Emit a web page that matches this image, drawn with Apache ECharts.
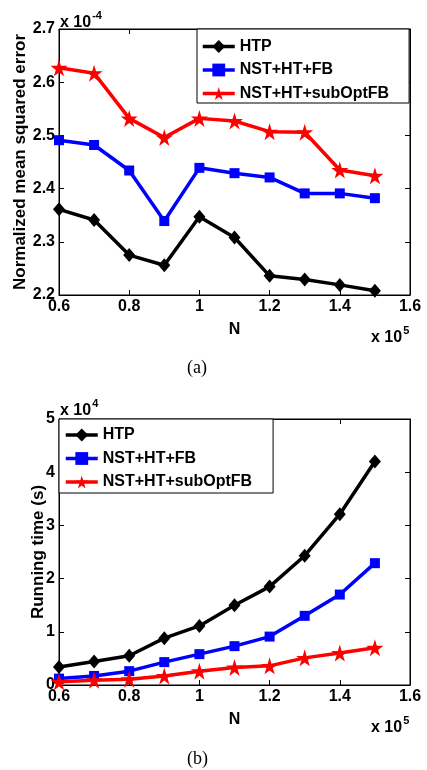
<!DOCTYPE html>
<html>
<head>
<meta charset="utf-8">
<script src="https://cdn.jsdelivr.net/npm/echarts@6/dist/echarts.min.js"></script>
<style>
  html, body { margin: 0; padding: 0; background: #fff; }
  #main { width: 427px; height: 770px; }
</style>
</head>
<body>
<div id="main"></div>
<script>
// N in units of 1e5
var nValues = [0.6, 0.7, 0.8, 0.9, 1.0, 1.1, 1.2, 1.3, 1.4, 1.5];
var seriesNames = ['HTP', 'NST+HT+FB', 'NST+HT+subOptFB'];

// (a) normalized MSE, units of 1e-4
var mseHTP = [2.361, 2.341, 2.275, 2.256, 2.347, 2.308, 2.236, 2.229, 2.219, 2.208];
var mseFB = [2.491, 2.482, 2.434, 2.339, 2.439, 2.429, 2.421, 2.391, 2.391, 2.382];
var mseSub = [2.627, 2.617, 2.532, 2.496, 2.532, 2.527, 2.507, 2.506, 2.435, 2.424];

// (b) running time, units of 1e4 s
var timeHTP = [0.34, 0.44, 0.55, 0.88, 1.11, 1.50, 1.85, 2.43, 3.21, 4.20];
var timeFB = [0.12, 0.17, 0.26, 0.43, 0.58, 0.73, 0.91, 1.30, 1.70, 2.29];
var timeSub = [0.06, 0.09, 0.11, 0.17, 0.26, 0.33, 0.36, 0.51, 0.60, 0.70];

var starPath = 'path://M50,0 L61,35 L98,35 L68,57 L79,91 L50,70 L21,91 L32,57 L2,35 L39,35 Z';
var font = 'Liberation Sans, Arial, sans-serif';
var lab = { color: '#000', fontFamily: font, fontWeight: 'bold', fontSize: 16 };

function pairs(ys) {
  return nValues.map(function (x, i) { return [x, ys[i]]; });
}
function xFmt(v) { return String(+v.toFixed(1)); }

function xAx(grid, top) {
  return {
    type: 'value', gridIndex: grid, min: 0.6, max: 1.6, interval: 0.2,
    position: top ? 'top' : 'bottom',
    name: top ? '' : 'N', nameLocation: 'middle', nameGap: 27,
    nameTextStyle: lab, nameMoveOverlap: false,
    axisLine: { show: true, onZero: false, lineStyle: { color: '#000', width: 1 } },
    axisTick: { show: true, inside: true, length: 5, lineStyle: { color: '#000' } },
    axisLabel: top ? { show: false } : Object.assign({ margin: 4, formatter: xFmt }, lab),
    splitLine: { show: false }
  };
}
function yAx(grid, right, min, max, step, name, gap, digits) {
  return {
    type: 'value', gridIndex: grid, min: min, max: max, interval: step,
    position: right ? 'right' : 'left',
    name: right ? '' : name, nameLocation: 'middle', nameGap: gap,
    nameTextStyle: Object.assign({}, lab, { fontSize: 17 }), nameMoveOverlap: false,
    axisLine: { show: true, onZero: false, lineStyle: { color: '#000', width: 1 } },
    axisTick: { show: true, inside: true, length: 5, lineStyle: { color: '#000' } },
    axisLabel: right ? { show: false } : Object.assign({
      margin: 4, formatter: function (v) { return v.toFixed(digits); }
    }, lab),
    splitLine: { show: false }
  };
}
function line(name, grid, ys, symbol, size, color) {
  return {
    name: name, type: 'line', xAxisIndex: grid * 2, yAxisIndex: grid * 2,
    data: pairs(ys), symbol: symbol, symbolSize: size, showAllSymbol: true,
    lineStyle: { color: color, width: 3.5 },
    itemStyle: { color: color, borderColor: color, borderWidth: 0 },
    animation: false
  };
}
function sup(left, top, base, exp) {
  return {
    type: 'text', left: left, top: top,
    style: {
      text: '{b|' + base + '}{s|' + exp + '}',
      rich: {
        b: { fontFamily: font, fontWeight: 'bold', fontSize: 16, fill: '#000', verticalAlign: 'bottom' },
        s: { fontFamily: font, fontWeight: 'bold', fontSize: 11, fill: '#000', padding: [0, 0, 10, 1] }
      }
    }
  };
}
function legend(left, top, padding) {
  return {
    orient: 'vertical', left: left, top: top,
    data: seriesNames.map(function (n) { return { name: n }; }),
    itemWidth: 32, itemHeight: 16, itemGap: 7.5,
    padding: padding, borderColor: '#000', borderWidth: 1,
    backgroundColor: '#fff',
    lineStyle: { width: 3.5 },
    textStyle: Object.assign({}, lab, { fontSize: 16 }),
    selectedMode: false
  };
}

var chart = echarts.init(document.getElementById('main'));
chart.setOption({
  animation: false,
  grid: [
    { left: 59, right: 17, top: 29, height: 266, show: true, borderColor: '#000', borderWidth: 1 },
    { left: 59, right: 17, top: 419, height: 266, show: true, borderColor: '#000', borderWidth: 1 }
  ],
  xAxis: [xAx(0, false), xAx(0, true), xAx(1, false), xAx(1, true)],
  yAxis: [
    yAx(0, false, 2.2, 2.7, 0.1, 'Normalized mean squared error', 30, 1),
    yAx(0, true, 2.2, 2.7, 0.1, '', 0, 1),
    yAx(1, false, 0, 5, 1, 'Running time (s)', 12, 0),
    yAx(1, true, 0, 5, 1, '', 0, 0)
  ],
  legend: [
    legend(197, 29, [9.5, 20, 1.5, 4]),
    legend(59, 419, [8, 21, 3, 5])
  ],
  series: [
    line(seriesNames[0], 0, mseHTP, 'diamond', [12, 14], '#000'),
    line(seriesNames[1], 0, mseFB, 'rect', 10, '#0000ff'),
    line(seriesNames[2], 0, mseSub, starPath, 17, '#ff0000'),
    line(seriesNames[0], 1, timeHTP, 'diamond', [12, 14], '#000'),
    line(seriesNames[1], 1, timeFB, 'rect', 10, '#0000ff'),
    line(seriesNames[2], 1, timeSub, starPath, 17, '#ff0000')
  ],
  graphic: [
    sup(60, 10, 'x 10', '-4'),
    sup(371, 325, 'x 10', '5'),
    sup(60, 398, 'x 10', '4'),
    sup(371, 715, 'x 10', '5'),
    { type: 'text', left: 187, top: 359, style: { text: '(a)', fontFamily: 'Liberation Serif, Times New Roman, serif', fontSize: 18, fill: '#000' } },
    { type: 'text', left: 187, top: 750, style: { text: '(b)', fontFamily: 'Liberation Serif, Times New Roman, serif', fontSize: 18, fill: '#000' } }
  ]
});
</script>
</body>
</html>
